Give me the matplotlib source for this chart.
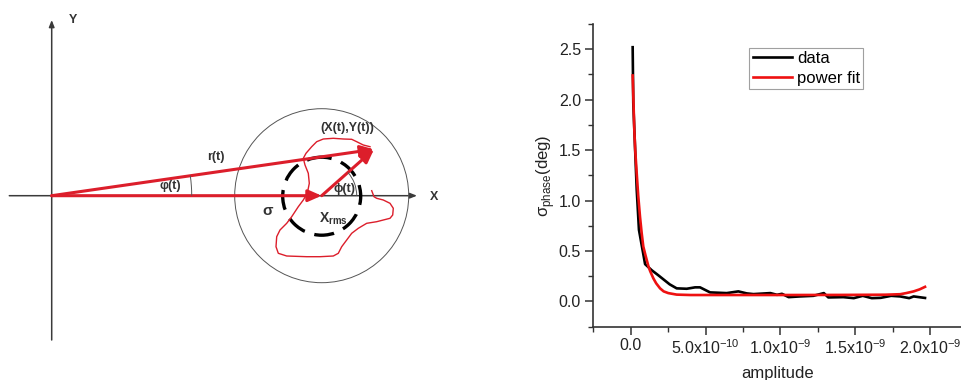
import numpy as np
import matplotlib
matplotlib.use("Agg")
from matplotlib import pyplot as plt
import matplotlib.patches as mpatches
from matplotlib.ticker import MultipleLocator, FixedLocator, FixedFormatter

plt.rcParams['font.family'] = ['Liberation Sans', 'DejaVu Sans']

# phase noise vs amplitude (amplitude in units of 1e-10)
amp_data = np.array([0.13, 0.17, 0.40, 0.55, 0.96, 1.40, 1.84, 2.60, 3.07, 3.74,
                     4.30, 4.63, 5.30, 6.41, 7.19, 7.75, 8.20, 9.33, 9.77, 10.1,
                     10.55, 11.3, 12.2, 12.9, 13.2, 14.2, 14.9, 15.5, 16.1, 16.7,
                     17.4, 18.0, 18.6, 18.9, 19.66]) * 1e-10
sigma_data = np.array([2.52, 1.97, 1.11, 0.71, 0.37, 0.31, 0.26, 0.17, 0.13, 0.126,
                       0.14, 0.14, 0.09, 0.083, 0.10, 0.08, 0.073, 0.083, 0.066, 0.076,
                       0.043, 0.05, 0.056, 0.083, 0.04, 0.043, 0.033, 0.056, 0.033, 0.036,
                       0.056, 0.05, 0.033, 0.05, 0.035])

amp_fit = np.array([0.13, 0.24, 0.30, 0.40, 0.50, 0.62, 0.73, 0.84, 1.0, 1.18, 1.3,
                    1.51, 1.7, 1.96, 2.2, 2.51, 3.07, 4.0, 6.0, 10.0, 14.0, 17.0,
                    18.0, 18.4, 18.9, 19.3, 19.66]) * 1e-10
sigma_fit = np.array([2.24, 1.70, 1.50, 1.27, 1.05, 0.84, 0.68, 0.545, 0.45, 0.35, 0.30,
                      0.23, 0.18, 0.13, 0.10, 0.083, 0.068, 0.064, 0.064, 0.064, 0.065, 0.067,
                      0.072, 0.083, 0.10, 0.12, 0.145])

xtick_vals = [0.0, 5e-10, 1e-9, 1.5e-9, 2e-9]
xtick_labels = ['0.0', '5.0x10$^{\\mathregular{-10}}$', '1.0x10$^{\\mathregular{-9}}$',
                '1.5x10$^{\\mathregular{-9}}$', '2.0x10$^{\\mathregular{-9}}$']

# schematic geometry (pixel-like units, y grows downward)
origin = (51.7, 195.7)
center = (321.7, 195.7)
tip = (374.0, 149.3)
contour_x = [371.7, 374.0, 376.7, 383.3, 390.0, 393.3, 392.7, 390.0, 383.3, 376.7,
             366.7, 358.3, 351.7, 346.7, 341.7, 338.3, 333.3, 320.0, 306.7, 286.7,
             278.3, 276.0, 276.7, 280.0, 286.7, 291.7, 298.3, 303.3, 307.3, 309.3,
             308.3, 305.0, 303.3, 306.0, 311.7, 316.7, 323.3, 333.3, 343.3, 351.7,
             356.7, 363.3, 370.0]
contour_y = [190.7, 196.7, 198.3, 200.0, 203.3, 208.3, 215.0, 218.3, 220.0, 221.7,
             223.3, 228.3, 233.3, 240.0, 246.7, 253.3, 256.0, 256.7, 256.7, 256.0,
             253.3, 246.7, 236.7, 230.0, 223.3, 216.7, 206.7, 200.0, 193.3, 183.3,
             173.3, 165.0, 158.3, 153.3, 146.7, 141.7, 139.0, 138.3, 139.0, 139.3,
             141.7, 145.0, 146.7]

W, H = 962, 380
fig = plt.figure(figsize=(W / 100, H / 100), dpi=100)

# ---- left: phasor diagram ----
axd = fig.add_axes([0, 0, 500 / W, 1])
axd.set_xlim(0, 500)
axd.set_ylim(380, 0)
axd.axis('off')

red = '#dc1e2b'
axis_col = '#3a3a3a'

def arrow(p0, p1, color, lw, hl, hw, ms=10):
    style = mpatches.ArrowStyle('-|>', head_length=hl, head_width=hw)
    a = mpatches.FancyArrowPatch(p0, p1, arrowstyle=style, mutation_scale=ms,
                                 color=color, lw=lw, shrinkA=0, shrinkB=0)
    axd.add_patch(a)

arrow((51.7, 340), (51.7, 20), axis_col, 1.1, 0.5, 0.2, 8)
arrow((9.3, 195.7), (417, 195.7), axis_col, 1.1, 0.5, 0.2, 8)

axd.add_patch(mpatches.Circle(center, 87, fill=False, ec='#555555', lw=0.7))
axd.add_patch(mpatches.Circle((321.7, 196.2), 39, fill=False, ec='black', lw=2.4,
                              ls=(3, (6, 3))))
axd.plot(contour_x, contour_y, color=red, lw=1.0)

arrow(origin, center, red, 2.2, 0.5, 0.22, 16)
arrow(origin, tip, red, 2.2, 0.5, 0.22, 16)
arrow(center, tip, red, 2.2, 0.5, 0.22, 16)

axd.add_patch(mpatches.Arc(origin, 280, 280, theta1=-8.2, theta2=0, color='#555555', lw=0.7))
axd.add_patch(mpatches.Arc(center, 70, 70, theta1=-41.6, theta2=0, color='#555555', lw=0.7))

tkw = dict(ha='center', va='center', color='#333333', fontweight='bold', fontsize=9)
axd.text(72.7, 20, 'Y', **tkw)
axd.text(434, 196.7, 'X', **tkw)
axd.text(216, 157, 'r(t)', **tkw)
axd.text(170, 185.7, 'φ(t)', **tkw)
axd.text(345, 189.3, 'ϕ(t)', **tkw)
axd.text(268, 210.7, 'σ', **{**tkw, 'fontsize': 11})
axd.text(333, 219, 'X$_{\\mathregular{rms}}$', **{**tkw, 'fontsize': 10})
axd.text(347.7, 128.3, '(X(t),Y(t))', **tkw)

# ---- right: sigma_phase vs amplitude ----
left, bottom, top = 592.7, 326.7, 24.0
ax = fig.add_axes([left / W, (H - bottom) / H, (W - left) / W, (bottom - top) / H])
ax.plot(amp_data, sigma_data, color='black', lw=1.9, label='data')
ax.plot(amp_fit, sigma_fit, color='#ee1111', lw=1.9, label='power fit')

ax.set_xlim(-2.54e-10, 2.213e-9)
ax.set_ylim(-0.25, 2.75)
ax.yaxis.set_major_locator(MultipleLocator(0.5))
ax.yaxis.set_minor_locator(MultipleLocator(0.25))
ax.xaxis.set_major_locator(FixedLocator(xtick_vals))
ax.xaxis.set_major_formatter(FixedFormatter(xtick_labels))
ax.xaxis.set_minor_locator(MultipleLocator(2.5e-10))

for s in ['top', 'right']:
    ax.spines[s].set_visible(False)
for s in ['left', 'bottom']:
    ax.spines[s].set_color('#333333')
    ax.spines[s].set_linewidth(1.2)
ax.tick_params(which='major', direction='out', length=6, width=1.1, color='#333333',
               labelsize=11.5, labelcolor='#222222')
ax.tick_params(which='minor', direction='out', length=3.5, width=1.0, color='#333333')
ax.tick_params(axis='x', pad=2)
ax.tick_params(axis='y', pad=2.5)

ax.set_xlabel('amplitude', fontsize=12, color='#222222', labelpad=7)
ax.set_ylabel('σ$_{\\mathregular{phase}}$(deg)', fontsize=12, color='#222222', labelpad=1)

leg = ax.legend(loc='upper left', bbox_to_anchor=(0.424, 0.922), fontsize=12,
                frameon=True, fancybox=False, borderpad=0.2, borderaxespad=0,
                handlelength=2.35, handletextpad=0.3, labelspacing=0.3)
leg.get_frame().set_edgecolor('#888888')
leg.get_frame().set_linewidth(0.8)

fig.savefig('out.png', dpi=100)
